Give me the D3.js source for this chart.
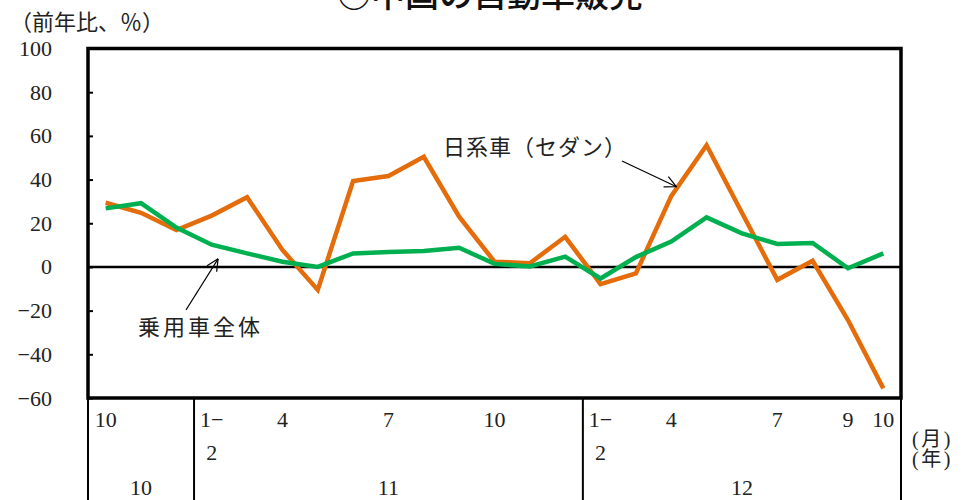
<!DOCTYPE html>
<html>
<head>
<meta charset="utf-8">
<script src="https://cdn.jsdelivr.net/npm/d3@7"></script>
<style>
  html, body { margin: 0; padding: 0; background: #fff; }
  svg { display: block; }
  .num { font-family: "Liberation Serif", "Noto Sans CJK JP", serif; }
  .jp { font-family: "Noto Sans CJK JP", "Liberation Serif", sans-serif; }
</style>
</head>
<body>
<svg id="chart" width="973" height="500"></svg>
<script>
// Monthly categories, Oct 2010 – Oct 2012 (Jan and Feb are combined)
const months = ["10","11","12","1-2","3","4","5","6","7","8","9","10","11","12","1-2","3","4","5","6","7","8","9","10"];
const yearOf = ["10","10","10","11","11","11","11","11","11","11","11","11","11","11","12","12","12","12","12","12","12","12","12"];
// Month labels printed under the axis (blank = not printed)
const monthLabels = ["10","","","1-2","","4","","","7","","","10","","","1-2","","4","","","7","","9","10"];
const years = ["10","11","12"];

// Year-on-year change (%)
const japaneseSedans = [29.4, 24.8, 16.9, 23.5, 31.9, 7.8, -10.5, 39.3, 41.6, 50.4, 23.0, 2.4, 1.7, 13.8, -7.9, -3.0, 32.4, 55.7, 24.8, -5.9, 2.8, -24.3, -55.6];
const allPassengerCars = [26.8, 29.2, 18.0, 10.2, 6.2, 2.4, 0.0, 6.2, 6.8, 7.3, 8.8, 1.4, 0.2, 4.7, -5.3, 4.5, 11.6, 22.7, 15.4, 10.5, 11.0, -0.6, 6.2];

const yTicks = [100, 80, 60, 40, 20, 0, -20, -40, -60];

const svg = d3.select("#chart");
const L = 88, R = 901, T = 48.5, B = 398;

const band = d3.scaleBand().domain(d3.range(months.length)).range([L, R]).paddingInner(0).paddingOuter(0);
const xc = i => band(i) + band.bandwidth() / 2;
const xf = d3.scaleLinear().domain([0, months.length - 1]).range([xc(0), xc(months.length - 1)]);
const y = d3.scaleLinear().domain([-60, 100]).range([B, T]);

// Title (its upper part runs past the top edge of the figure)
svg.append("text").attr("class", "jp")
  .attr("x", 490).attr("y", 7).attr("text-anchor", "middle")
  .attr("font-size", 34).attr("font-weight", 500).attr("fill", "#111")
  .text("○中国の自動車販売");

// Unit label
svg.append("text").attr("class", "jp")
  .attr("x", 10).attr("y", 30).attr("font-size", 22).attr("fill", "#222")
  .text("（前年比、％）");

// Y axis tick labels and inward ticks
const yAxis = d3.axisLeft(y).tickValues(yTicks).tickSize(-5).tickPadding(36)
  .tickFormat(d => d < 0 ? "\u2212" + Math.abs(d) : String(d));
const ya = svg.append("g").attr("transform", `translate(${L},0)`).call(yAxis);
ya.select(".domain").remove();
ya.selectAll(".tick line").attr("stroke", "#000").attr("stroke-width", 2);
ya.selectAll(".tick text").attr("class", "num").attr("font-size", 22).attr("fill", "#222")
  .attr("font-family", "Liberation Serif, serif");

// Zero line
svg.append("line").attr("x1", L).attr("x2", R).attr("y1", y(0)).attr("y2", y(0))
  .attr("stroke", "#000").attr("stroke-width", 2.5);

// Series lines
const line = d3.line().x((d, i) => xc(i)).y(d => y(d));
svg.append("path").datum(japaneseSedans).attr("d", line)
  .attr("fill", "none").attr("stroke", "#E46C0A").attr("stroke-width", 4.5)
  .attr("stroke-linejoin", "miter");
svg.append("path").datum(allPassengerCars).attr("d", line)
  .attr("fill", "none").attr("stroke", "#00B050").attr("stroke-width", 4.5)
  .attr("stroke-linejoin", "miter");

// Plot frame
svg.append("rect").attr("x", L).attr("y", T).attr("width", R - L).attr("height", B - T)
  .attr("fill", "none").attr("stroke", "#000").attr("stroke-width", 3.5);

// Category table under the plot: year group separators
const groupEdges = [L];
for (let i = 1; i < months.length; i++) if (yearOf[i] !== yearOf[i - 1]) groupEdges.push(band(i));
groupEdges.push(R);
svg.selectAll("line.sep").data(groupEdges).join("line").attr("class", "sep")
  .attr("x1", d => d).attr("x2", d => d).attr("y1", B).attr("y2", 500)
  .attr("stroke", "#000").attr("stroke-width", 2);

// Month labels (two lines for combined months)
monthLabels.forEach((m, i) => {
  if (!m) return;
  const t = svg.append("text").attr("class", "num").attr("font-size", 22).attr("fill", "#222")
    .attr("text-anchor", "middle");
  if (m.includes("-")) {
    const [a, b] = m.split("-");
    t.append("tspan").attr("x", xc(i)).attr("y", 427).text(a + "\u2212");
    t.append("tspan").attr("x", xc(i)).attr("y", 460).text(b);
  } else {
    t.attr("x", xc(i)).attr("y", 427).text(m);
  }
});

// Year labels centred in each group
years.forEach((yr, k) => {
  svg.append("text").attr("class", "num").attr("font-size", 22).attr("fill", "#222")
    .attr("text-anchor", "middle")
    .attr("x", (groupEdges[k] + groupEdges[k + 1]) / 2).attr("y", 495).text(yr);
});

// Axis unit captions
svg.append("text").attr("class", "num").attr("font-size", 20).attr("fill", "#222")
  .attr("letter-spacing", 2.5).attr("x", 912).attr("y", 446).text("(月)");
svg.append("text").attr("class", "num").attr("font-size", 20).attr("fill", "#222")
  .attr("letter-spacing", 2.5).attr("x", 912).attr("y", 466).text("(年)");

// Series annotations with open arrows
function arrow(x1, y1, x2, y2) {
  const ang = Math.atan2(y2 - y1, x2 - x1), len = 13, spread = Math.PI / 7;
  svg.append("line").attr("x1", x1).attr("y1", y1).attr("x2", x2).attr("y2", y2)
    .attr("stroke", "#000").attr("stroke-width", 1.2);
  [ang + Math.PI - spread, ang + Math.PI + spread].forEach(a => {
    svg.append("line").attr("x1", x2).attr("y1", y2)
      .attr("x2", x2 + len * Math.cos(a)).attr("y2", y2 + len * Math.sin(a))
      .attr("stroke", "#000").attr("stroke-width", 1.2);
  });
}

svg.append("text").attr("class", "jp").attr("font-size", 22).attr("fill", "#222")
  .attr("letter-spacing", 1).attr("x", 443).attr("y", 155).text("日系車（セダン）");
arrow(622, 161, xf(16.15), y(36.7));

svg.append("text").attr("class", "jp").attr("font-size", 22).attr("fill", "#222")
  .attr("letter-spacing", 3).attr("x", 138).attr("y", 335).text("乗用車全体");
arrow(186, 310, xf(3.18), y(3.7));
</script>
</body>
</html>
